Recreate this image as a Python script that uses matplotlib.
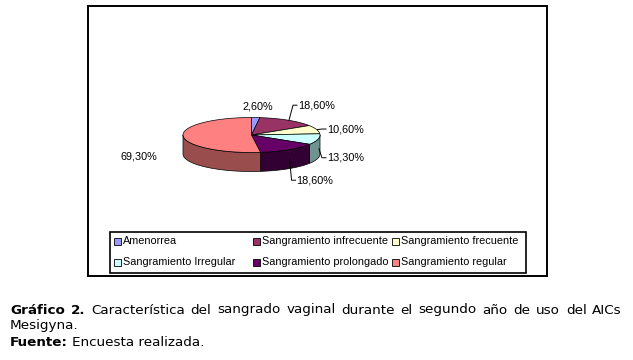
import numpy as np
import matplotlib.pyplot as plt
from matplotlib.patches import Polygon, Rectangle

# Datos del gráfico
categorias = ['Amenorrea', 'Sangramiento infrecuente', 'Sangramiento frecuente',
              'Sangramiento Irregular', 'Sangramiento prolongado', 'Sangramiento regular']
valores = [2.6, 18.6, 10.6, 13.3, 18.6, 69.3]
etiquetas = ['2,60%', '18,60%', '10,60%', '13,30%', '18,60%', '69,30%']

colores = ['#9999ff', '#993366', '#ffffcc', '#ccffff', '#660066', '#ff8080']
colores_lado = ['#5c5c99', '#5c1f3d', '#99997a', '#6f9490', '#330033', '#994d4d']

# Geometría del pastel 3D (en píxeles)
cx, cy = 251.5, 135
rx, ry = 68.5, 17.5
prof = 19

# Desplazamiento de cada etiqueta respecto al punto medio del sector
desp = [(2, -11.5), (10, -15), (10.5, -0.5), (9, 9), (8, 21), (-44, 11)]
lineas = [False, True, True, True, True, False]


def punto(t):
    t = np.radians(t)
    return cx + rx * np.cos(t), cy - ry * np.sin(t)


def arco(t0, t1, n=60):
    ts = np.radians(np.linspace(t0, t1, n))
    return cx + rx * np.cos(ts), cy - ry * np.sin(ts)


fig = plt.figure(figsize=(6.33, 3.6), dpi=100)
ax = fig.add_axes([0, 0, 1, 1])
ax.set_xlim(0, 633)
ax.set_ylim(360, 0)
ax.axis('off')

# Marco del gráfico
ax.add_patch(Rectangle((88, 6), 459, 270, fill=False, lw=1.4, ec='black'))

total = sum(valores)
angulos = []
inicio = 90.0
for v in valores:
    fin = inicio - v / total * 360
    angulos.append((inicio, fin))
    inicio = fin

# Paredes laterales (mitad frontal)
for (t0, t1), c in zip(angulos, colores_lado):
    a = min(t0, 0)
    b = max(t1, -180)
    if a <= b:
        continue
    xs, ys = arco(a, b)
    pts = list(zip(xs, ys)) + list(zip(xs[::-1], ys[::-1] + prof))
    ax.add_patch(Polygon(pts, closed=True, fc=c, ec='black', lw=0.5))

# Cara superior
for (t0, t1), c in zip(angulos, colores):
    xs, ys = arco(t0, t1)
    pts = [(cx, cy)] + list(zip(xs, ys))
    ax.add_patch(Polygon(pts, closed=True, fc=c, ec='black', lw=0.5))

# Etiquetas de porcentaje
for (t0, t1), txt, (dx, dy), ln in zip(angulos, etiquetas, desp, lineas):
    medio = (t0 + t1) / 2
    px, py = punto(medio)
    if -180 < medio < 0:
        py += prof / 2
    lx, ly = px + dx, py + dy
    if ln:
        ax.plot([px + 1, lx - 5, lx - 1], [py, ly, ly], color='black', lw=0.7)
        ax.text(lx, ly, txt, fontsize=7.8, family='Liberation Sans', ha='left', va='center')
    else:
        ax.text(lx, ly, txt, fontsize=7.8, family='Liberation Sans', ha='center', va='center')

# Leyenda
ax.add_patch(Rectangle((110, 232), 416, 41, fill=False, lw=1.2, ec='black'))
col_x = [114, 253, 392]
fila_y = [241, 262]
for i, (cat, c) in enumerate(zip(categorias, colores)):
    x = col_x[i % 3]
    y = fila_y[i // 3]
    ax.add_patch(Rectangle((x, y - 3.5), 7, 7, fc=c, ec='black', lw=0.6))
    ax.text(x + 9, y, cat, fontsize=7.8, family='Liberation Sans', ha='left', va='center')

# Pie de figura (justificado)
fs = 9.7
r = fig.canvas.get_renderer()
palabras = [('Gráfico', 'bold'), ('2.', 'bold'), ('Característica', 'normal'), ('del', 'normal'),
            ('sangrado', 'normal'), ('vaginal', 'normal'), ('durante', 'normal'), ('el', 'normal'),
            ('segundo', 'normal'), ('año', 'normal'), ('de', 'normal'), ('uso', 'normal'),
            ('del', 'normal'), ('AICs', 'normal')]
objs = [ax.text(0, 310, w, fontsize=fs, fontweight=fw, family='DejaVu Sans',
                ha='left', va='center', color='black') for w, fw in palabras]
anchos = [o.get_window_extent(r).width for o in objs]
hueco = (622 - 10 - sum(anchos)) / (len(objs) - 1)
x = 10
for o, w in zip(objs, anchos):
    o.set_x(x)
    x += w + hueco
ax.text(10, 326, 'Mesigyna.', fontsize=fs, family='DejaVu Sans', ha='left', va='center', color='black')
t = ax.text(10, 343, 'Fuente:', fontsize=fs, fontweight='bold', family='DejaVu Sans',
            ha='left', va='center', color='black')
w = t.get_window_extent(r).width
ax.text(10 + w + 4, 343, 'Encuesta realizada.', fontsize=fs, family='DejaVu Sans',
        ha='left', va='center', color='black')

fig.savefig('out.png', dpi=100)
